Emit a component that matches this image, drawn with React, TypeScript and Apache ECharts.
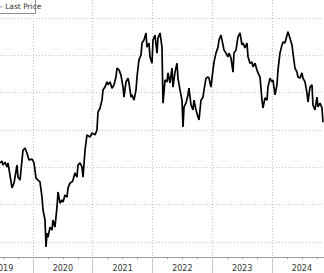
import React, { useEffect, useRef } from "react";
import * as echarts from "echarts";

const times = [
  2019.448, 2019.481, 2019.498, 2019.532, 2019.565, 2019.582, 2019.649, 2019.682, 2019.733, 2019.749,
  2019.783, 2019.833, 2019.866, 2019.900, 2019.933, 2019.984, 2020.017, 2020.051, 2020.084, 2020.117,
  2020.151, 2020.168, 2020.201, 2020.218, 2020.235, 2020.251, 2020.285, 2020.318, 2020.335, 2020.368,
  2020.402, 2020.419, 2020.452, 2020.486, 2020.502, 2020.536, 2020.569, 2020.586, 2020.620, 2020.653,
  2020.670, 2020.703, 2020.737, 2020.753, 2020.787, 2020.820, 2020.837, 2020.871, 2020.904, 2020.954,
  2020.988, 2021.038, 2021.071, 2021.088, 2021.122, 2021.155, 2021.172, 2021.205, 2021.239, 2021.256,
  2021.289, 2021.322, 2021.356, 2021.389, 2021.406, 2021.440, 2021.473, 2021.507, 2021.523, 2021.557,
  2021.590, 2021.607, 2021.641, 2021.657, 2021.691, 2021.724, 2021.741, 2021.774, 2021.808, 2021.825,
  2021.858, 2021.892, 2021.908, 2021.942, 2021.958, 2021.992, 2022.009, 2022.042, 2022.076, 2022.092,
  2022.126, 2022.159, 2022.176, 2022.210, 2022.243, 2022.260, 2022.293, 2022.327, 2022.343, 2022.377,
  2022.410, 2022.427, 2022.461, 2022.494, 2022.511, 2022.528, 2022.561, 2022.594, 2022.611, 2022.645,
  2022.678, 2022.695, 2022.728, 2022.762, 2022.779, 2022.812, 2022.846, 2022.862, 2022.896, 2022.929,
  2022.946, 2022.979, 2023.013, 2023.030, 2023.063, 2023.097, 2023.113, 2023.147, 2023.180, 2023.197,
  2023.230, 2023.264, 2023.281, 2023.314, 2023.348, 2023.364, 2023.398, 2023.431, 2023.465, 2023.498,
  2023.515, 2023.548, 2023.582, 2023.599, 2023.632, 2023.666, 2023.682, 2023.716, 2023.749, 2023.766,
  2023.800, 2023.833, 2023.850, 2023.883, 2023.917, 2023.933, 2023.967, 2024.000, 2024.017, 2024.051,
  2024.084, 2024.101, 2024.134, 2024.168, 2024.184, 2024.218, 2024.251, 2024.268, 2024.302, 2024.335,
  2024.352, 2024.385, 2024.419, 2024.435, 2024.469, 2024.502, 2024.519, 2024.553, 2024.586, 2024.603,
  2024.636, 2024.670, 2024.686, 2024.720, 2024.753, 2024.770, 2024.804, 2024.837, 2024.854,
];

const prices = [
  81.2, 81.7, 80.6, 81.4, 80.1, 81.2, 74.5, 75.8, 80.6, 77.4,
  76.6, 84.6, 85.2, 83.8, 82.0, 82.2, 81.2, 77.1, 76.6, 76.1,
  72.0, 68.6, 65.9, 58.7, 62.4, 61.3, 64.0, 63.2, 65.9, 64.0,
  69.4, 73.4, 70.4, 71.3, 70.7, 72.6, 72.0, 74.5, 75.8, 76.1,
  76.6, 78.5, 77.4, 80.6, 81.2, 80.1, 77.4, 84.6, 88.7, 88.1,
  89.2, 88.7, 90.0, 94.8, 95.9, 98.0, 100.7, 101.5, 102.9, 102.1,
  102.9, 101.2, 102.1, 104.2, 106.6, 106.1, 104.7, 101.5, 98.8, 102.9,
  103.9, 102.6, 98.8, 99.4, 98.0, 100.7, 104.2, 108.8, 110.1, 113.3,
  114.1, 116.0, 112.2, 113.3, 109.6, 107.9, 114.1, 115.4, 110.6, 114.6,
  116.0, 112.2, 97.2, 103.4, 102.9, 105.3, 102.6, 106.6, 101.5, 105.5,
  107.9, 103.9, 100.7, 98.0, 90.8, 96.2, 97.2, 99.4, 101.2, 96.7,
  95.4, 98.0, 95.4, 93.5, 92.7, 98.0, 98.8, 100.7, 103.9, 104.2,
  103.9, 101.5, 106.1, 108.2, 110.6, 112.2, 114.1, 115.4, 112.8, 111.4,
  110.6, 109.6, 110.6, 109.3, 105.5, 110.6, 111.4, 114.9, 116.0, 112.8,
  113.3, 112.0, 113.3, 109.6, 107.9, 108.2, 106.9, 107.9, 106.1, 105.3,
  104.2, 98.0, 95.9, 98.6, 98.0, 101.5, 103.9, 102.9, 103.4, 99.4,
  102.1, 106.1, 110.6, 112.8, 113.6, 113.3, 115.4, 116.3, 114.6, 112.8,
  110.6, 106.6, 105.5, 104.2, 103.9, 105.3, 103.9, 102.9, 99.9, 97.5,
  101.5, 102.1, 96.7, 95.4, 98.8, 96.2, 97.2, 95.9, 92.1,
];

const yearTicks = [2020, 2021, 2022, 2023, 2024];
const yearLabelPositions = [2019.5, 2020.5, 2021.5, 2022.5, 2023.5, 2024.5];
const quarterTicks = [
  2019.5, 2019.75, 2020.25, 2020.5, 2020.75, 2021.25, 2021.5, 2021.75,
  2022.25, 2022.5, 2022.75, 2023.25, 2023.5, 2023.75, 2024.25, 2024.5, 2024.75,
];
const priceGridValues = [60, 70, 80, 90, 100, 110, 120];

const X_MIN = 2019.448;
const X_MAX = 2024.871;

export default function App() {
  const ref = useRef<HTMLDivElement>(null);

  useEffect(() => {
    if (!ref.current) return;
    const chart = echarts.init(ref.current, null, { renderer: "svg" });
    const data = times.map((t, i) => [t, prices[i]]);
    chart.setOption({
      animation: false,
      grid: {
        left: 0,
        right: 0,
        top: 0,
        bottom: 16,
        containLabel: false,
        outerBoundsMode: "none",
      },
      xAxis: [
        {
          type: "value",
          min: X_MIN,
          max: X_MAX,
          axisLine: { show: true, lineStyle: { color: "#9a9a9a", width: 1 } },
          axisTick: {
            show: true,
            customValues: yearTicks,
            inside: false,
            length: 16,
            lineStyle: { color: "#c8c8c8", width: 1 },
          },
          splitLine: {
            show: true,
            lineStyle: { color: "#c4c4c4", type: [1, 2], width: 1 },
          },
          axisLabel: {
            show: true,
            customValues: yearLabelPositions,
            formatter: (v: number) => String(Math.floor(v)),
            margin: 7,
            fontSize: 8,
            fontFamily: "DejaVu Sans",
            color: "#333",
            hideOverlap: false,
          },
        },
        {
          type: "value",
          min: X_MIN,
          max: X_MAX,
          position: "bottom",
          axisLine: { show: false },
          axisTick: {
            show: true,
            customValues: quarterTicks,
            inside: false,
            length: 2,
            lineStyle: { color: "#9a9a9a", width: 1 },
          },
          splitLine: { show: false },
          axisLabel: { show: false },
        },
      ],
      yAxis: {
        type: "value",
        min: 56,
        max: 124.82,
        axisLine: { show: false },
        axisTick: { show: false, customValues: priceGridValues },
        axisLabel: { show: false, customValues: priceGridValues },
        splitLine: {
          show: true,
          lineStyle: { color: "#c4c4c4", type: [1, 2], width: 1 },
        },
      },
      graphic: [
        {
          type: "rect",
          shape: { x: -10, y: -1, width: 45.5, height: 14.5 },
          style: { fill: "#fff", stroke: "#8c8c8c", lineWidth: 1 },
          z: 100,
        },
        {
          type: "text",
          x: -1,
          y: 6.5,
          style: {
            text: "– Last Price",
            fontSize: 7.5,
            fontFamily: "DejaVu Sans",
            fill: "#333",
            verticalAlign: "middle",
          },
          z: 101,
        },
      ],
      series: [
        {
          type: "line",
          data,
          xAxisIndex: 0,
          showSymbol: false,
          symbol: "none",
          lineStyle: { color: "#000", width: 1.7 },
          clip: false,
        },
      ],
    });
    return () => chart.dispose();
  }, []);

  return (
    <div
      ref={ref}
      style={{ position: "fixed", left: 0, top: 0, width: 324, height: 273, background: "#fff" }}
    />
  );
}
